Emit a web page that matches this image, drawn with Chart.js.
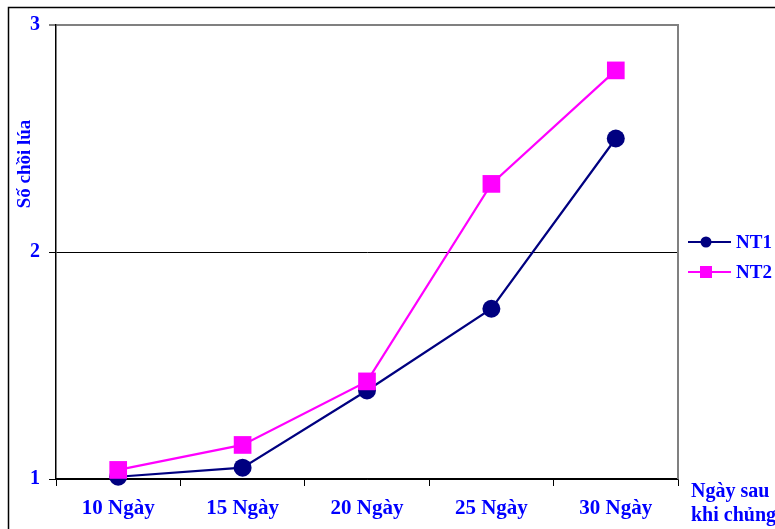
<!DOCTYPE html>
<html>
<head>
<meta charset="utf-8">
<script src="https://cdn.jsdelivr.net/npm/chart.js@4/dist/chart.umd.min.js"></script>
<style>
  html, body { margin: 0; padding: 0; background: #ffffff; }
  #wrap { width: 775px; height: 529px; }
</style>
</head>
<body>
<div id="wrap"><canvas id="c" width="775" height="529"></canvas></div>
<script>
// Days after inoculation
const categories = ['10 Ngày', '15 Ngày', '20 Ngày', '25 Ngày', '30 Ngày'];
// Number of rice tillers per treatment
const nt1Values = [1.01, 1.05, 1.39, 1.75, 2.50];
const nt2Values = [1.04, 1.15, 1.43, 2.30, 2.80];
const yTicks = [1, 2, 3];
const seriesNames = ['NT1', 'NT2'];
const yTitle = 'Số chồi lúa';
const xTitleLines = ['Ngày sau', 'khi chủng'];

const FONT = '"Liberation Serif", "Times New Roman", serif';
const BLUE = '#0000ff';
const NAVY = '#000080';
const MAGENTA = '#ff00ff';

const decorations = {
  id: 'decorations',
  afterDraw(chart) {
    const ctx = chart.ctx;
    const a = chart.chartArea;
    ctx.save();
    // outer frame
    ctx.strokeStyle = '#000000';
    ctx.lineWidth = 1.5;
    ctx.strokeRect(8.5, 7.5, 800, 600);
    // right side of plot area
    ctx.strokeStyle = '#808080';
    ctx.lineWidth = 2;
    ctx.beginPath();
    ctx.moveTo(a.right, a.top - 1);
    ctx.lineTo(a.right, a.bottom);
    ctx.stroke();

    // y axis title
    ctx.fillStyle = BLUE;
    ctx.font = 'bold 19px ' + FONT;
    ctx.textAlign = 'center';
    ctx.textBaseline = 'middle';
    ctx.save();
    ctx.translate(25, 164);
    ctx.rotate(-Math.PI / 2);
    ctx.fillText(yTitle, 0, 0);
    ctx.restore();

    // x axis title
    ctx.textAlign = 'left';
    ctx.font = 'bold 20px ' + FONT;
    ctx.fillText(xTitleLines[0], 691, 492);
    ctx.fillText(xTitleLines[1], 691, 516);

    // legend
    const items = [
      { name: seriesNames[0], color: NAVY, style: 'circle', y: 242 },
      { name: seriesNames[1], color: MAGENTA, style: 'rect', y: 272 }
    ];
    items.forEach(it => {
      ctx.strokeStyle = it.color;
      ctx.fillStyle = it.color;
      ctx.lineWidth = 2;
      ctx.beginPath();
      ctx.moveTo(688, it.y);
      ctx.lineTo(731, it.y);
      ctx.stroke();
      if (it.style === 'circle') {
        ctx.beginPath();
        ctx.arc(706, it.y, 5.5, 0, Math.PI * 2);
        ctx.fill();
      } else {
        ctx.fillRect(700, it.y - 6, 12, 12);
      }
      ctx.fillStyle = BLUE;
      ctx.font = 'bold 19px ' + FONT;
      ctx.textBaseline = 'middle';
      ctx.fillText(it.name, 736, it.y + 1);
    });
    ctx.restore();
  }
};

new Chart(document.getElementById('c'), {
  type: 'line',
  data: {
    labels: categories,
    datasets: [
      {
        label: seriesNames[0],
        data: nt1Values,
        borderColor: NAVY,
        backgroundColor: NAVY,
        borderWidth: 2.2,
        pointStyle: 'circle',
        pointRadius: 9,
        pointHoverRadius: 9,
        pointBorderWidth: 0,
        tension: 0,
        clip: false,
        order: 1
      },
      {
        label: seriesNames[1],
        data: nt2Values,
        borderColor: MAGENTA,
        backgroundColor: MAGENTA,
        borderWidth: 2.2,
        pointStyle: 'rect',
        pointRadius: 12.5,
        pointHoverRadius: 12.5,
        pointBorderWidth: 0,
        tension: 0,
        clip: false,
        order: 0
      }
    ]
  },
  options: {
    responsive: false,
    animation: false,
    events: [],
    layout: { padding: { top: 25, right: 97, bottom: 0, left: 0 } },
    plugins: {
      legend: { display: false },
      tooltip: { enabled: false }
    },
    scales: {
      x: {
        type: 'category',
        offset: true,
        grid: {
          offset: true,
          drawOnChartArea: false,
          drawTicks: true,
          tickLength: 7,
          color: '#000000',
          lineWidth: 1
        },
        border: { display: true, color: '#000000', width: 1.5 },
        ticks: {
          color: BLUE,
          font: { family: FONT, size: 21, weight: 'bold' },
          padding: 10,
          maxRotation: 0,
          autoSkip: false
        },
        afterFit(scale) { scale.height = 50; }
      },
      y: {
        type: 'linear',
        min: 1,
        max: 3,
        afterBuildTicks(scale) { scale.ticks = yTicks.map(v => ({ value: v })); },
        grid: {
          drawTicks: true,
          tickLength: 7,
          color: ctx => (ctx.tick && ctx.tick.value === 3) ? '#808080' : '#000000',
          lineWidth: ctx => (ctx.tick && ctx.tick.value === 3) ? 2 : 1
        },
        border: { display: true, color: '#000000', width: 1.5 },
        ticks: {
          color: BLUE,
          font: { family: FONT, size: 20, weight: 'bold' },
          padding: 9,
          callback: v => String(v)
        },
        afterFit(scale) { scale.width = 56; }
      }
    }
  },
  plugins: [decorations]
});
</script>
</body>
</html>
